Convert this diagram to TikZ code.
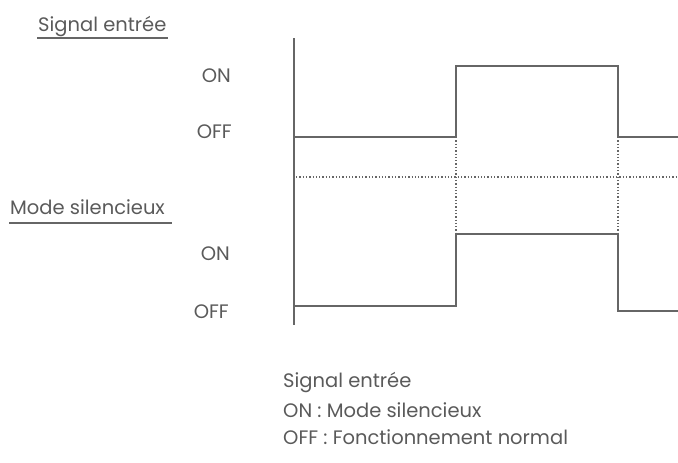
\documentclass[tikz,border=0pt]{standalone}
\usepackage{fontspec}
\setmainfont{Poppins}
\definecolor{ln}{HTML}{666666}
\definecolor{tx}{HTML}{5A5A5A}
\begin{document}
\begin{tikzpicture}[x=1pt,y=-1pt,
  lbl/.style={inner sep=0pt,text=tx,font=\fontsize{19.5}{23}\selectfont},
  sig/.style={draw=ln,line width=1.8pt},
  dot/.style={draw=ln,line width=1.3pt,dotted}]
\useasboundingbox (0,0) rectangle (678,463);
% labels
\node[lbl,anchor=base west] (t1) at (38,31) {Signal entrée};
\draw[ln,line width=1.8pt] (37,38) -- (168,38);
\node[lbl,anchor=base east] (on1) at (231,82) {ON};
\node[lbl,anchor=base east] (off1) at (232,138) {OFF};
\node[lbl,anchor=base west] (t2) at (10,214) {Mode silencieux};
\draw[ln,line width=1.8pt] (9,223) -- (172,223);
\node[lbl,anchor=base east] (on2) at (230,260) {ON};
\node[lbl,anchor=base east] (off2) at (229,318) {OFF};
\node[lbl,anchor=base west] (b1) at (283,387) {Signal entrée};
\node[lbl,anchor=base west] (b2) at (283,417) {ON : Mode silencieux};
\node[lbl,anchor=base west] (b3) at (283,444) {OFF : Fonctionnement normal};
% axis
\coordinate (axT) at (294,38);
\coordinate (axB) at (294,325);
\draw[sig] (axT) -- (axB);
% dotted guides
\coordinate (mL) at (296,177);
\coordinate (mR) at (678,177);
\draw[dot] (mL) -- (mR);
\coordinate (g1a) at (456,137);
\coordinate (g1b) at (456,234);
\coordinate (g2a) at (618,137);
\coordinate (g2b) at (618,234);
\draw[dot] (g1a) -- (g1b);
\draw[dot] (g2a) -- (g2b);
% input signal
\coordinate (s0) at (294,137);
\coordinate (s1) at (456,137);
\coordinate (s2) at (456,66);
\coordinate (s3) at (618,66);
\coordinate (s4) at (618,137);
\coordinate (s5) at (678,137);
\draw[sig] (s0) -- (s1) -- (s2) -- (s3) -- (s4) -- (s5);
% silent mode
\coordinate (m0) at (294,306);
\coordinate (m1) at (456,306);
\coordinate (m2) at (456,234);
\coordinate (m3) at (618,234);
\coordinate (m4) at (618,311);
\coordinate (m5) at (678,311);
\draw[sig] (m0) -- (m1) -- (m2) -- (m3) -- (m4) -- (m5);
\end{tikzpicture}
\end{document}
